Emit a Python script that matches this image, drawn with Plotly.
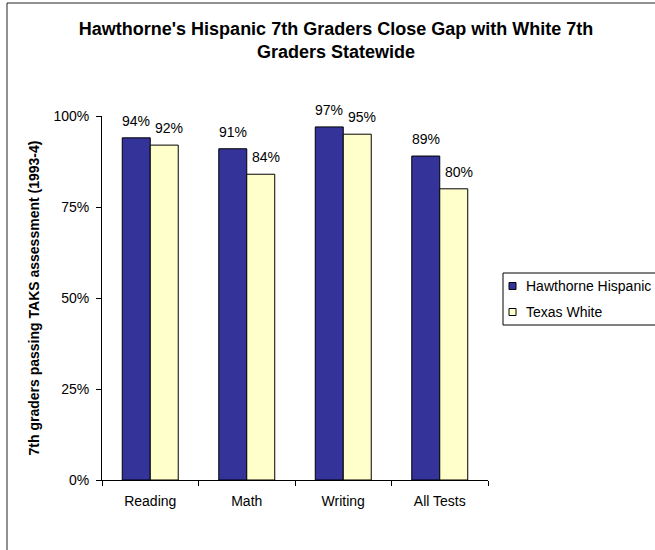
import plotly.graph_objects as go

categories = ["Reading", "Math", "Writing", "All Tests"]
hawthorne_hispanic = [0.94, 0.91, 0.97, 0.89]
texas_white = [0.92, 0.84, 0.95, 0.80]
series_names = ["Hawthorne Hispanic", "Texas White"]
series_colors = ["#333399", "#FFFFCC"]
y_ticks = [0, 0.25, 0.5, 0.75, 1.0]
y_ticklabels = ["0%", "25%", "50%", "75%", "100%"]

FONT = "Arial, Liberation Sans, sans-serif"
W, H = 655, 550
L, R, T, B = 102, 167, 116, 70
pw, ph = W - L - R, H - T - B


def px_x(p):
    return (p - L) / pw


def px_y(p):
    return (H - B - p) / ph


fig = go.Figure()
for name, vals, col in zip(series_names, (hawthorne_hispanic, texas_white), series_colors):
    fig.add_trace(go.Bar(x=categories, y=vals, name=name, showlegend=False,
                         marker=dict(color=col, line=dict(color="#000000", width=1))))

annotations = []
for vals, xs in ((hawthorne_hispanic, -14), (texas_white, 19)):
    for c, v in zip(categories, vals):
        annotations.append(dict(x=c, y=v, xref="x", yref="y", text=f"{round(v*100)}%",
                                showarrow=False, xshift=xs, yshift=17, yanchor="middle",
                                font=dict(family=FONT, size=14, color="#000")))

shapes = [dict(type="rect", xref="paper", yref="paper",
               x0=px_x(7), y0=px_y(3), x1=px_x(700), y1=px_y(600),
               line=dict(color="#222", width=1), fillcolor="rgba(0,0,0,0)", layer="below")]

# manual legend (box clipped at the right edge, as in the reference)
shapes.append(dict(type="rect", xref="paper", yref="paper",
                   x0=px_x(503), y0=px_y(273), x1=px_x(700), y1=px_y(325),
                   line=dict(color="#000", width=1), fillcolor="white"))
for i, (name, col) in enumerate(zip(series_names, series_colors)):
    cy = 286 + 26 * i
    shapes.append(dict(type="rect", xref="paper", yref="paper",
                       x0=px_x(509), y0=px_y(cy - 3.5), x1=px_x(516), y1=px_y(cy + 3.5),
                       line=dict(color="#000", width=1), fillcolor=col))
    annotations.append(dict(x=px_x(524), y=px_y(cy), xref="paper", yref="paper", text=name,
                            showarrow=False, xanchor="left", yanchor="middle",
                            font=dict(family=FONT, size=14, color="#000")))

fig.update_layout(
    width=W, height=H,
    margin=dict(l=L, r=R, t=T, b=B, autoexpand=False),
    paper_bgcolor="white", plot_bgcolor="white",
    font=dict(family=FONT, size=14, color="#000"),
    barmode="group", bargap=0.42, bargroupgap=0,
    title=dict(text="<b>Hawthorne's Hispanic 7th Graders Close Gap with White 7th<br>Graders Statewide</b>",
               x=336 / W, xanchor="center", xref="container",
               y=1 - 35 / H, yanchor="top", yref="container",
               font=dict(family=FONT, size=18, color="#000")),
    xaxis=dict(showline=True, linecolor="#000", linewidth=1, ticks="outside", ticklen=5,
               tickcolor="#000", tickson="boundaries", showgrid=False,
               tickfont=dict(family=FONT, size=14, color="#000"), ticklabelstandoff=8),
    yaxis=dict(range=[0, 1], tickvals=y_ticks, ticktext=y_ticklabels, showline=True,
               linecolor="#000", linewidth=1, ticks="outside", ticklen=5, tickcolor="#000",
               showgrid=False, zeroline=False, tickfont=dict(family=FONT, size=14, color="#000"),
               ticklabelstandoff=4,
               title=dict(text="<b>7th graders passing TAKS assessment (1993-4)</b>",
                          font=dict(family=FONT, size=14, color="#000"), standoff=10)),
    annotations=annotations,
    shapes=shapes,
)

fig.write_html("out.html")
